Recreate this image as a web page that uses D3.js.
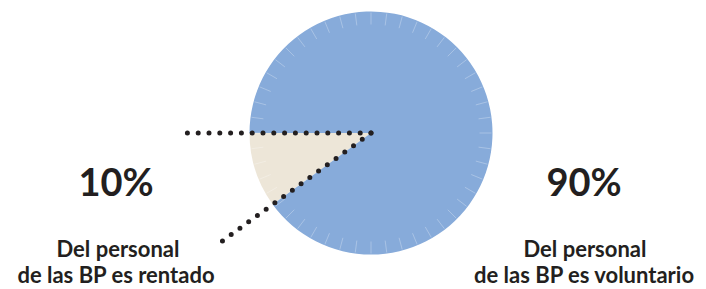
<!DOCTYPE html>
<html>
<head>
<meta charset="utf-8">
<script src="https://cdn.jsdelivr.net/npm/d3@7"></script>
<style>
  html, body { margin: 0; padding: 0; background: #fff; }
  text { font-family: Lato, "Open Sans", sans-serif; font-weight: 700; fill: #231f20; }
</style>
</head>
<body>
<div id="chart"></div>
<script>
// chart data
const categories = ["Rentado", "Voluntario"];
const values = [10, 90];
const percentLabels = ["10%", "90%"];
const captionLines = [
  ["Del personal", "de las BP es rentado"],
  ["Del personal", "de las BP es voluntario"]
];
const colors = ["#ede6d8", "#87abda"];

// set the dimensions
let width = 706, height = 289;
let cx = 371, cy = 133, radius = 121.5;

let svg = d3.select("#chart").append("svg")
  .attr("width", width)
  .attr("height", height);

// first slice sits between 9 o'clock and lower-left
let pie = d3.pie()
  .sort(null)
  .startAngle(-Math.PI * 0.7)
  .endAngle(Math.PI * 1.3);

let arc = d3.arc().innerRadius(0).outerRadius(radius);

let arcs = pie(values);

let g = svg.append("g")
  .attr("transform", "translate(" + cx + "," + cy + ")");

g.selectAll("path.slice")
  .data(arcs)
  .enter().append("path")
  .attr("class", "slice")
  .attr("d", arc)
  .attr("fill", (d, i) => colors[i]);

// little white ticks round the rim
let tickAngles = d3.range(0, 360, 7.5).map(a => a * Math.PI / 180);
g.selectAll("line.tick")
  .data(tickAngles)
  .enter().append("line")
  .attr("class", "tick")
  .attr("x1", a => Math.sin(a) * (radius - 1))
  .attr("y1", a => -Math.cos(a) * (radius - 1))
  .attr("x2", a => Math.sin(a) * (radius - 13))
  .attr("y2", a => -Math.cos(a) * (radius - 13))
  .attr("stroke", "#fff")
  .attr("stroke-opacity", 0.28)
  .attr("stroke-width", 1);

// dotted leaders along the edges of the small slice
let leaderLen = radius * 1.55;
let small = arcs[0];
g.selectAll("line.leader")
  .data([small.startAngle, small.endAngle])
  .enter().append("line")
  .attr("class", "leader")
  .attr("x1", 0)
  .attr("y1", 0)
  .attr("x2", a => Math.sin(a) * leaderLen)
  .attr("y2", a => -Math.cos(a) * leaderLen)
  .attr("stroke", "#231f20")
  .attr("stroke-width", 5)
  .attr("stroke-linecap", "round")
  .attr("stroke-dasharray", "0 10.8");

// labels
let labelPos = [
  { x: 116, y: 196, lines: [118, 116] },
  { x: 584, y: 196, lines: [585, 584] }
];

svg.selectAll("text.pct")
  .data(percentLabels)
  .enter().append("text")
  .attr("class", "pct")
  .attr("x", (d, i) => labelPos[i].x)
  .attr("y", (d, i) => labelPos[i].y)
  .attr("text-anchor", "middle")
  .style("font-size", "38px")
  .text(d => d);

captionLines.forEach((lines, i) => {
  lines.forEach((line, j) => {
    svg.append("text")
      .attr("x", labelPos[i].lines[j])
      .attr("y", 257 + j * 26)
      .attr("text-anchor", "middle")
      .style("font-size", "22px")
      .text(line);
  });
});
</script>
</body>
</html>
